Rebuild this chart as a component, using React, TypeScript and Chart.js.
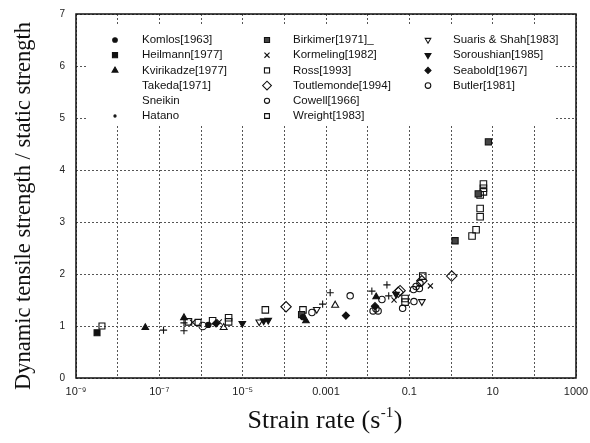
import React, { useEffect, useRef } from 'react';
import { Chart, registerables } from 'chart.js';

Chart.register(...registerables);

// ---------- data (strain rate [1/s], dynamic/static strength ratio) ----------
const komlos: [number, number][] = [[1.5e-6, 1.02], [2.8e-4, 1.17]];
const heilmann: [number, number][] = [[3.2e-9, 0.87]];
const kvirikadze: [number, number][] = [[4.6e-8, 0.97], [3.9e-7, 1.16], [3.3e-4, 1.1], [0.016, 1.56]];
const takeda: [number, number][] = [
  [1.26e-7, 0.92], [3.9e-7, 1.06], [3.9e-7, 0.91], [8.3e-4, 1.42], [1.26e-3, 1.64],
  [0.0126, 1.67], [0.029, 1.79], [0.032, 1.58],
];
const sneikin: [number, number][] = [[3.5e-6, 0.97], [1.66e-3, 1.4]];
const hatano: [number, number][] = [];
const birkimer: [number, number][] = [[2.6e-4, 1.22], [1.25, 2.64], [4.5, 3.54], [7.9, 4.54]];
const kormeling: [number, number][] = [[6.3e-7, 1.07], [2.75e-6, 1.08], [0.043, 1.5], [0.32, 1.77]];
const ross: [number, number][] = [
  [5e-7, 1.08], [1.9e-6, 1.1], [4.6e-6, 1.16], [4.6e-6, 1.08], [3.5e-5, 1.31], [2.8e-4, 1.31],
  [0.079, 1.53], [0.079, 1.46], [0.21, 1.96], [3.2, 2.73], [4.0, 2.85], [5.0, 3.1], [5.0, 3.26],
  [5.0, 3.52], [6.0, 3.58], [6.0, 3.65], [6.0, 3.73],
];
const toutlemonde: [number, number][] = [[1.1e-4, 1.37], [0.054, 1.65], [0.06, 1.68], [0.2, 1.87], [1.04, 1.96]];
const cowell: [number, number][] = [
  [4.6e-4, 1.26], [3.8e-3, 1.58], [0.0135, 1.29], [0.0178, 1.29], [0.0158, 1.33], [0.022, 1.51],
  [0.069, 1.34], [0.126, 1.7], [0.129, 1.47], [0.145, 1.76], [0.174, 1.72], [0.18, 1.82],
];
const wreight: [number, number][] = [[4.2e-9, 1.0], [8.5e-7, 1.07]];
const suarisShah: [number, number][] = [[2.5e-5, 1.08], [6e-4, 1.32], [0.2, 1.47]];
const soroushian: [number, number][] = [[9.8e-6, 1.05], [3.2e-5, 1.1], [4.1e-5, 1.11], [0.048, 1.61]];
const seabold: [number, number][] = [[2.3e-6, 1.05], [3.0e-3, 1.2], [0.015, 1.38]];
const butler: [number, number][] = [[1.1e-6, 1.0]];

// legend columns (column-major order as in the figure)
const legendCol1 = ['Komlos[1963]', 'Heilmann[1977]', 'Kvirikadze[1977]', 'Takeda[1971]', 'Sneikin', 'Hatano'];
const legendCol2 = ['Birkimer[1971]_', 'Kormeling[1982]', 'Ross[1993]', 'Toutlemonde[1994]', 'Cowell[1966]', 'Wreight[1983]'];
const legendCol3 = ['Suaris & Shah[1983]', 'Soroushian[1985]', 'Seabold[1967]', 'Butler[1981]'];

// axis ticks and titles
const xTickExponents = [-9, -8, -7, -6, -5, -4, -3, -2, -1, 0, 1, 2, 3];
const xLabelExponents = [-9, -7, -5, -3, -1, 1, 3];
const xLabelTexts = ['10\u207B\u2079', '10\u207B\u2077', '10\u207B\u2075', '0.001', '0.1', '10', '1000'];
const yTicks = [0, 1, 2, 3, 4, 5, 6, 7];
const xTitleMain = 'Strain rate (s';
const xTitleSup = '-1';
const xTitleEnd = ')';
const yTitle = 'Dynamic tensile strength / static strength';

type Mk = { shape: string; r: number; fill: string | null; lr: number; show: boolean };
const INK = '#111';
const SERIF = '"Liberation Serif", "Times New Roman", serif';

const seriesData = [
  komlos, heilmann, kvirikadze, takeda, sneikin, hatano,
  birkimer, kormeling, ross, toutlemonde, cowell, wreight,
  suarisShah, soroushian, seabold, butler,
];
const seriesLabels = [...legendCol1, ...legendCol2, ...legendCol3];
const markers: Mk[] = [
  { shape: 'circle', r: 2.6, fill: INK, lr: 2.3, show: true },
  { shape: 'rect', r: 4.2, fill: INK, lr: 3.6, show: true },
  { shape: 'triangle', r: 3.8, fill: INK, lr: 3.4, show: true },
  { shape: 'cross', r: 3.6, fill: null, lr: 3, show: false },
  { shape: 'triangle', r: 4, fill: null, lr: 3, show: false },
  { shape: 'circle', r: 1.2, fill: INK, lr: 1.1, show: true },
  { shape: 'rect', r: 4.4, fill: '#444', lr: 3.6, show: true },
  { shape: 'crossRot', r: 3.6, fill: null, lr: 3.2, show: true },
  { shape: 'rect', r: 4.6, fill: null, lr: 3.6, show: true },
  { shape: 'rectRot', r: 5.2, fill: null, lr: 4.4, show: true },
  { shape: 'circle', r: 3.2, fill: null, lr: 2.6, show: true },
  { shape: 'rect', r: 4.2, fill: null, lr: 3.4, show: true },
  { shape: 'triangleDown', r: 3.8, fill: null, lr: 3.2, show: true },
  { shape: 'triangleDown', r: 3.8, fill: INK, lr: 3.4, show: true },
  { shape: 'rectRot', r: 3.6, fill: INK, lr: 3, show: true },
  { shape: 'circle', r: 3.8, fill: null, lr: 2.8, show: true },
];

function drawMarker(ctx: CanvasRenderingContext2D, m: Mk, x: number, y: number, r: number) {
  ctx.save();
  ctx.lineWidth = 1.1;
  ctx.strokeStyle = INK;
  ctx.beginPath();
  switch (m.shape) {
    case 'circle':
      ctx.arc(x, y, r, 0, Math.PI * 2);
      break;
    case 'rect': {
      const s = r * Math.SQRT1_2;
      ctx.rect(x - s, y - s, 2 * s, 2 * s);
      break;
    }
    case 'rectRot':
      ctx.moveTo(x - r, y); ctx.lineTo(x, y - r); ctx.lineTo(x + r, y); ctx.lineTo(x, y + r); ctx.closePath();
      break;
    case 'triangle':
      ctx.moveTo(x, y - r); ctx.lineTo(x + r * 0.866, y + r * 0.5); ctx.lineTo(x - r * 0.866, y + r * 0.5); ctx.closePath();
      break;
    case 'triangleDown':
      ctx.moveTo(x, y + r); ctx.lineTo(x + r * 0.866, y - r * 0.5); ctx.lineTo(x - r * 0.866, y - r * 0.5); ctx.closePath();
      break;
    case 'cross':
      ctx.moveTo(x - r, y); ctx.lineTo(x + r, y); ctx.moveTo(x, y - r); ctx.lineTo(x, y + r);
      break;
    case 'crossRot': {
      const s = r * 0.8;
      ctx.moveTo(x - s, y - s); ctx.lineTo(x + s, y + s); ctx.moveTo(x + s, y - s); ctx.lineTo(x - s, y + s);
      break;
    }
  }
  if (m.fill) { ctx.fillStyle = m.fill; ctx.fill(); }
  ctx.stroke();
  ctx.restore();
}

const overlayPlugin = {
  id: 'overlay',
  beforeDatasetsDraw(chart: any) {
    const { ctx, chartArea: a } = chart;
    ctx.save();
    ctx.fillStyle = '#fff';
    ctx.fillRect(a.left + 10, a.top + 10, a.right - a.left - 30, 100);
    ctx.restore();
  },
  afterDatasetsDraw(chart: any) {
    const { ctx, chartArea: a } = chart;
    ctx.save();
    ctx.strokeStyle = INK;
    ctx.lineWidth = 1.5;
    ctx.strokeRect(a.left, a.top, a.right - a.left, a.bottom - a.top);

    // legend
    ctx.font = '11.5px "Liberation Sans", Arial, sans-serif';
    ctx.fillStyle = INK;
    ctx.textBaseline = 'middle';
    ctx.textAlign = 'left';
    const cols = [
      { names: legendCol1, start: 0, mx: a.left + 39, tx: a.left + 66 },
      { names: legendCol2, start: 6, mx: a.left + 191, tx: a.left + 217 },
      { names: legendCol3, start: 12, mx: a.left + 352, tx: a.left + 377 },
    ];
    cols.forEach((c) => {
      c.names.forEach((name, i) => {
        const y = a.top + 26 + i * 15.2;
        const m = markers[c.start + i];
        if (m.show) drawMarker(ctx, m, c.mx, y, m.lr);
        ctx.fillText(name, c.tx, y);
      });
    });

    // y-axis title
    ctx.save();
    ctx.translate(24, (a.top + a.bottom) / 2 + 10);
    ctx.rotate(-Math.PI / 2);
    ctx.font = `22.5px ${SERIF}`;
    ctx.textAlign = 'center';
    ctx.textBaseline = 'middle';
    ctx.fillText(yTitle, 0, 0);
    ctx.restore();

    // x-axis title with superscript
    ctx.textBaseline = 'alphabetic';
    ctx.textAlign = 'left';
    const mainFont = `26px ${SERIF}`;
    const supFont = `15px ${SERIF}`;
    ctx.font = mainFont;
    const w1 = ctx.measureText(xTitleMain).width;
    const w3 = ctx.measureText(xTitleEnd).width;
    ctx.font = supFont;
    const w2 = ctx.measureText(xTitleSup).width;
    const total = w1 + w2 + w3 + 1;
    const cx = (a.left + a.right) / 2 - 1;
    const base = a.bottom + 50;
    let x0 = cx - total / 2;
    ctx.font = mainFont;
    ctx.fillText(xTitleMain, x0, base);
    x0 += w1 + 0.5;
    ctx.font = supFont;
    ctx.fillText(xTitleSup, x0, base - 11);
    x0 += w2 + 0.5;
    ctx.font = mainFont;
    ctx.fillText(xTitleEnd, x0, base);
    ctx.restore();
  },
};

export default function App() {
  const ref = useRef<HTMLCanvasElement | null>(null);
  useEffect(() => {
    if (!ref.current) return;
    const datasets = seriesData.map((pts, i) => {
      const m = markers[i];
      const style = m.shape === 'triangleDown' ? 'triangle' : m.shape;
      return {
        label: seriesLabels[i],
        data: pts.map(([x, y]) => ({ x, y })),
        showLine: false,
        pointStyle: style,
        pointRotation: m.shape === 'triangleDown' ? 180 : 0,
        pointRadius: m.r,
        pointBorderWidth: 1.1,
        pointBorderColor: INK,
        pointBackgroundColor: m.fill ?? 'rgba(0,0,0,0)',
      };
    });
    const chart = new Chart(ref.current, {
      type: 'scatter',
      data: { datasets: datasets as any },
      plugins: [overlayPlugin as any],
      options: {
        animation: false,
        responsive: true,
        maintainAspectRatio: false,
        layout: { padding: { top: 14, right: 14, left: 0, bottom: 0 } },
        plugins: { legend: { display: false }, tooltip: { enabled: false } },
        scales: {
          x: {
            type: 'logarithmic',
            min: 1e-9,
            max: 1000,
            afterBuildTicks: (s: any) => {
              s.ticks = xTickExponents.map((e) => ({ value: Math.pow(10, e) }));
            },
            afterFit: (s: any) => {
              s.height = 65;
              s.paddingLeft = 0;
              s.paddingRight = 0;
            },
            ticks: {
              autoSkip: false,
              maxRotation: 0,
              minRotation: 0,
              padding: 7,
              color: '#222',
              font: { family: '"Liberation Sans", Arial, sans-serif', size: 11 },
              callback: (v: any) => {
                const e = Math.round(Math.log10(Number(v)));
                const k = xLabelExponents.indexOf(e);
                return k >= 0 ? xLabelTexts[k] : '';
              },
            },
            grid: { color: '#555', lineWidth: 1, drawTicks: false },
            border: { display: false, dash: [2, 2] },
            title: { display: false },
          },
          y: {
            min: 0,
            max: 7,
            afterBuildTicks: (s: any) => {
              s.ticks = yTicks.map((v) => ({ value: v }));
            },
            afterFit: (s: any) => {
              s.width = 76;
              s.paddingTop = 0;
              s.paddingBottom = 0;
            },
            ticks: {
              padding: 11,
              color: '#222',
              font: { family: '"Liberation Sans", Arial, sans-serif', size: 10 },
            },
            grid: { color: '#555', lineWidth: 1, drawTicks: false },
            border: { display: false, dash: [2, 2] },
            title: { display: false },
          },
        },
      } as any,
    });
    return () => chart.destroy();
  }, []);
  return (
    <div style={{ position: 'fixed', left: 0, top: 0, width: 590, height: 443, background: '#fff' }}>
      <canvas ref={ref} />
    </div>
  );
}
